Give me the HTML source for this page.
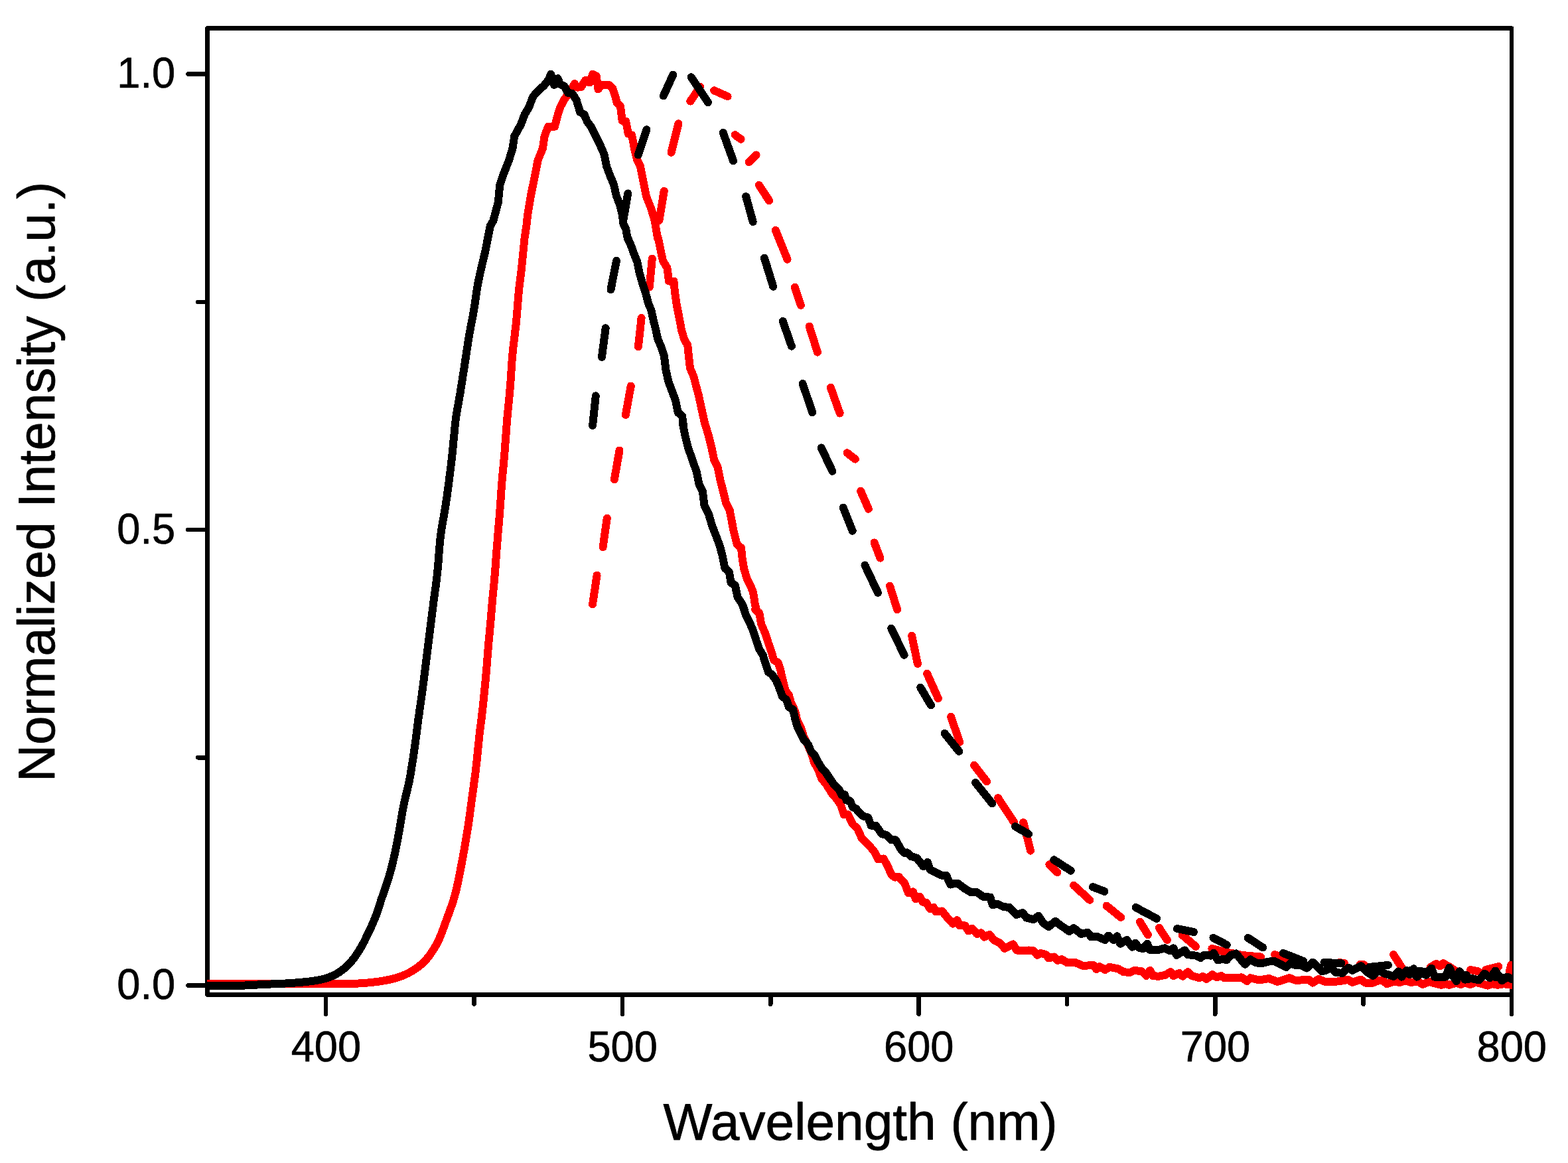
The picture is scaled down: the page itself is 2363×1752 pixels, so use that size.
<!DOCTYPE html>
<html lang="en"><head><meta charset="utf-8"><title>Normalized Intensity vs Wavelength</title>
<style>html,body{margin:0;padding:0;background:#fff;overflow:hidden}svg{display:block}text{font-family:"Liberation Sans",sans-serif;fill:#000}</style></head><body>
<svg width="2363" height="1752" viewBox="0 0 2363 1752">
<rect x="0" y="0" width="2363" height="1752" fill="#ffffff"/>
<defs><clipPath id="plot"><rect x="312" y="42.5" width="1967" height="1456.0"/></clipPath></defs>
<g shape-rendering="crispEdges" fill="none" stroke="#000" stroke-width="6.5" stroke-linecap="round" stroke-linejoin="round">
<rect x="312.5" y="42.5" width="1965.5" height="1456.0"/>
<line x1="491.20" y1="1498.5" x2="491.20" y2="1527.75"/>
<line x1="937.90" y1="1498.5" x2="937.90" y2="1527.75"/>
<line x1="1384.60" y1="1498.5" x2="1384.60" y2="1527.75"/>
<line x1="1831.30" y1="1498.5" x2="1831.30" y2="1527.75"/>
<line x1="2278.00" y1="1498.5" x2="2278.00" y2="1527.75"/>
<line x1="714.55" y1="1498.5" x2="714.55" y2="1512.75"/>
<line x1="1161.25" y1="1498.5" x2="1161.25" y2="1512.75"/>
<line x1="1607.95" y1="1498.5" x2="1607.95" y2="1512.75"/>
<line x1="2054.65" y1="1498.5" x2="2054.65" y2="1512.75"/>
<line x1="312.5" y1="1484.50" x2="283.25" y2="1484.50"/>
<line x1="312.5" y1="798.00" x2="283.25" y2="798.00"/>
<line x1="312.5" y1="111.50" x2="283.25" y2="111.50"/>
<line x1="312.5" y1="1141.25" x2="298.25" y2="1141.25"/>
<line x1="312.5" y1="454.75" x2="298.25" y2="454.75"/>
</g>
<g clip-path="url(#plot)" shape-rendering="crispEdges" fill="none" stroke-width="12" stroke-linejoin="round" stroke-linecap="round">
<polyline stroke="#ff0000" points="312.0,1482.4 318.0,1482.4 324.0,1482.4 330.0,1482.4 336.0,1482.4 342.0,1482.4 348.0,1482.4 354.0,1482.4 360.0,1482.4 366.0,1482.4 372.0,1482.4 378.0,1482.4 384.0,1482.4 390.0,1482.4 396.0,1482.4 402.0,1482.4 408.0,1482.4 414.0,1482.4 420.0,1482.4 426.0,1482.4 432.0,1482.4 438.0,1482.4 444.0,1482.4 450.0,1482.4 456.0,1482.4 462.0,1482.4 468.0,1482.4 474.0,1482.4 480.0,1482.4 486.0,1482.4 492.0,1482.4 498.0,1482.4 504.0,1482.4 510.0,1482.3 516.0,1482.2 522.0,1482.1 528.0,1482.0 534.0,1481.7 540.0,1481.5 546.0,1481.1 552.0,1480.7 557.9,1480.1 563.9,1479.5 569.8,1478.7 575.8,1477.9 581.7,1476.8 587.5,1475.6 593.3,1474.2 599.1,1472.6 604.7,1470.6 610.2,1468.4 615.6,1465.8 620.8,1462.9 625.8,1459.7 630.6,1456.3 635.2,1452.5 639.5,1448.5 643.5,1444.1 647.2,1439.5 650.6,1434.6 653.8,1429.6 656.9,1424.5 659.6,1419.2 662.2,1413.8 664.5,1408.3 666.7,1402.7 668.7,1397.1 670.8,1391.5 672.8,1385.8 674.9,1380.2 677.0,1374.6 679.0,1368.9 681.0,1363.3 682.9,1357.6 684.6,1351.8 686.2,1346.1 687.7,1340.3 689.0,1334.4 690.3,1328.6 691.5,1322.7 692.6,1316.8 693.8,1310.9 694.9,1305.0 696.1,1299.1 697.2,1293.2 698.3,1287.3 699.3,1281.4 700.3,1275.5 701.3,1269.6 702.3,1263.7 703.3,1257.8 704.3,1251.8 705.2,1245.9 706.2,1240.0 707.0,1234.0 707.9,1228.1 708.6,1222.2 709.4,1216.2 710.2,1210.3 711.0,1204.3 711.8,1198.4 712.6,1192.4 713.5,1186.5 714.3,1180.5 715.1,1174.6 715.9,1168.7 716.7,1162.7 717.3,1156.7 718.0,1150.8 718.7,1144.8 719.3,1138.8 719.9,1132.9 720.5,1126.9 721.1,1120.9 721.7,1115.0 722.3,1109.0 723.0,1103.0 723.7,1097.1 724.5,1091.1 725.3,1085.2 726.0,1079.2 726.7,1073.3 727.4,1067.3 728.0,1061.4 728.6,1055.4 729.2,1049.4 729.8,1043.4 730.4,1037.5 731.0,1031.5 731.6,1025.5 732.1,1019.6 732.7,1013.6 733.2,1007.6 733.7,1001.6 734.2,995.6 734.6,989.7 735.1,983.7 735.6,977.7 736.1,971.7 736.6,965.7 737.2,959.8 737.8,953.8 738.3,947.8 738.9,941.9 739.4,935.9 739.9,929.9 740.4,923.9 740.9,917.9 741.4,912.0 741.9,906.0 742.4,900.0 743.0,894.0 743.6,888.1 744.2,882.1 744.8,876.1 745.3,870.2 745.8,864.2 746.3,858.2 746.8,852.2 747.2,846.2 747.6,840.2 748.1,834.3 748.5,828.3 749.0,822.3 749.5,816.3 749.9,810.3 750.4,804.4 750.9,798.4 751.4,792.4 752.0,786.4 752.5,780.4 753.0,774.5 753.4,768.5 753.9,762.5 754.3,756.5 754.7,750.5 755.1,744.5 755.5,738.5 755.9,732.6 756.4,726.6 756.9,720.6 757.4,714.6 758.0,708.7 758.6,702.7 759.1,696.7 759.7,690.7 760.2,684.8 760.7,678.8 761.1,672.8 761.6,666.8 762.0,660.8 762.5,654.8 762.9,648.9 763.4,642.9 763.8,636.9 764.3,630.9 764.8,624.9 765.4,619.0 766.0,613.0 766.6,607.0 767.2,601.1 767.8,595.1 768.3,589.1 768.8,583.1 769.3,577.2 769.7,571.2 770.1,565.2 770.5,559.2 770.9,553.2 771.3,547.2 771.7,541.3 772.2,535.3 772.8,529.3 773.4,523.3 774.1,517.4 774.9,511.4 775.6,505.5 776.3,499.5 777.0,493.6 777.7,487.6 778.3,481.6 778.8,475.7 779.3,469.7 779.8,463.7 780.3,457.7 780.7,451.7 781.2,445.8 781.8,439.8 782.4,433.8 783.1,427.9 783.8,421.9 784.6,416.0 785.3,410.0 786.0,404.1 786.6,398.1 787.2,392.1 787.8,386.2 788.4,380.2 789.0,374.2 789.6,368.2 790.2,362.3 790.6,358.2 793.4,340.0 795.2,323.3 799.7,296.0 805.2,268.8 810.6,241.6 817.9,223.4 820.6,205.3 826.1,190.7 836.0,190.7 839.7,176.2 844.2,161.7 849.7,150.8 857.8,139.9 866.0,126.3 870.5,131.7 876.0,130.8 882.3,120.8 888.7,124.5 893.2,111.7 898.7,114.5 901.4,134.4 906.9,128.1 917.7,128.1 923.2,132.6 926.8,143.5 929.6,154.4 935.0,159.9 937.7,181.7 943.2,182.6 946.8,201.6 952.2,203.4 955.9,223.4 960.4,241.6 965.0,250.6 970.4,277.9 974.0,296.0 981.3,314.2 986.7,332.4 991.3,360.0 991.8,358.2 995.4,376.3 999.0,392.7 1005.4,403.5 1008.1,423.5 1015.4,423.5 1017.2,441.7 1019.9,459.8 1023.5,478.0 1027.2,498.0 1031.7,512.5 1036.2,519.8 1038.1,537.9 1039.9,554.3 1045.3,567.0 1049.0,581.5 1052.6,594.2 1055.3,606.9 1058.9,623.3 1062.6,640.0 1062.4,638.2 1067.9,656.3 1072.4,674.5 1076.1,692.6 1081.5,703.5 1085.1,721.7 1089.7,739.8 1094.2,758.0 1099.7,768.9 1102.4,783.4 1106.0,801.6 1110.6,819.7 1116.9,825.2 1118.7,841.5 1121.4,857.9 1126.0,872.4 1131.4,883.3 1135.1,892.4 1137.8,910.5 1140.5,920.0 1138.0,918.2 1144.3,923.6 1147.1,939.9 1153.4,954.5 1158.0,969.0 1162.5,981.7 1166.1,994.4 1172.5,998.0 1176.1,1008.9 1179.8,1025.3 1183.4,1039.8 1188.8,1047.1 1192.5,1059.8 1197.9,1070.7 1201.5,1085.2 1207.0,1096.1 1211.5,1110.6 1217.9,1123.3 1223.3,1136.0 1227.0,1148.8 1232.4,1157.8 1237.9,1172.4 1245.1,1181.4 1254.2,1196.0 1258.1,1200.0 1267.2,1212.7 1271.7,1227.2 1278.1,1227.2 1285.3,1241.8 1292.6,1249.0 1299.0,1263.5 1308.9,1272.6 1318.0,1283.5 1323.5,1294.4 1331.6,1293.5 1338.0,1305.3 1343.4,1318.0 1348.9,1321.7 1354.3,1320.7 1363.4,1330.7 1368.9,1345.3 1376.1,1343.4 1379.8,1354.3 1386.1,1350.7 1390.6,1358.9 1396.1,1359.8 1401.5,1368.9 1407.0,1367.0 1410.6,1373.4 1419.7,1372.5 1427.0,1381.6 1436.0,1391.6 1442.4,1386.1 1446.0,1394.3 1454.2,1394.3 1459.6,1402.5 1465.1,1398.8 1472.4,1407.0 1478.7,1405.2 1483.3,1411.5 1491.4,1407.9 1497.8,1416.1 1506.9,1420.6 1514.1,1428.8 1526.8,1422.4 1532.3,1431.5 1545.0,1432.4 1550.4,1431.5 1557.7,1432.4 1563.1,1438.8 1568.6,1436.0 1575.9,1437.9 1580.4,1443.3 1588.6,1441.5 1594.0,1446.9 1600.0,1445.1 1608.2,1450.3 1621.2,1450.3 1632.7,1455.2 1647.4,1453.6 1652.3,1460.1 1657.2,1456.1 1665.4,1461.0 1671.9,1456.9 1685.0,1459.3 1693.1,1464.2 1703.0,1465.0 1709.5,1461.8 1720.9,1463.4 1727.5,1470.0 1733.2,1461.8 1737.3,1470.0 1745.4,1470.8 1755.2,1469.1 1764.2,1464.2 1768.3,1470.0 1777.3,1465.9 1782.2,1470.8 1790.4,1464.2 1796.1,1470.0 1807.5,1473.2 1812.4,1470.8 1818.2,1474.9 1827.1,1468.3 1833.7,1472.4 1840.2,1470.0 1845.1,1473.2 1858.2,1473.2 1871.3,1472.4 1879.4,1478.1 1884.3,1473.2 1894.1,1475.7 1902.3,1475.7 1912.1,1474.0 1925.2,1478.9 1933.4,1476.5 1943.2,1473.2 1951.3,1476.5 1960.0,1476.5 1972.5,1475.7 1978.2,1480.6 1987.2,1474.9 1997.0,1478.9 2011.7,1478.9 2024.8,1477.3 2031.3,1475.7 2037.9,1479.8 2050.9,1475.7 2057.5,1480.6 2068.9,1480.6 2077.1,1477.3 2083.6,1477.3 2090.1,1482.2 2100.0,1478.9 2109.8,1479.8 2117.9,1477.3 2126.1,1479.8 2137.5,1478.9 2144.1,1483.0 2153.9,1478.9 2162.0,1481.4 2171.9,1483.8 2178.4,1482.2 2184.1,1483.8 2194.7,1480.6 2201.3,1483.0 2207.8,1480.6 2216.0,1483.0 2224.1,1479.8 2233.9,1482.2 2242.1,1484.7 2248.7,1482.2 2256.8,1483.8 2266.6,1482.2 2277.7,1483.8"/>
<g stroke="#ff0000">
<polyline points="893.0,910.5 899.6,866.6"/>
<polyline points="908.6,824.3 914.8,780.7"/>
<polyline points="925.9,722.2 933.5,678.6"/>
<polyline points="942.8,625.0 950.8,581.5"/>
<polyline points="961.9,522.5 966.6,478.9"/>
<polyline points="978.8,432.6 982.8,389.5"/>
<polyline points="993.4,332.0 1000.7,287.9"/>
<polyline points="1011.6,229.8 1022.5,186.2"/>
<polyline points="1040.3,152.6 1055.2,130.8"/>
<polyline points="1076.1,136.3 1096.6,145.3"/>
<polyline points="1107.5,203.1 1116.6,209.8"/>
<polyline points="1128.7,244.3 1139.6,233.4"/>
<polyline points="1143.8,278.8 1159.2,302.4"/>
<polyline points="1168.8,346.9 1186.6,390.8"/>
<polyline points="1197.8,432.6 1206.9,459.8"/>
<polyline points="1219.6,491.6 1232.0,530.6"/>
<polyline points="1251.8,583.7 1265.6,622.5"/>
<polyline points="1276.6,682.3 1288.9,691.7"/>
<polyline points="1297.1,739.8 1308.9,766.7"/>
<polyline points="1317.6,817.5 1326.5,840.6"/>
<polyline points="1341.0,882.7 1352.1,918.2"/>
<polyline points="1374.1,957.7 1382.9,999.9"/>
<polyline points="1397.1,1014.8 1413.8,1052.0"/>
<polyline points="1433.1,1079.8 1446.2,1117.9"/>
<polyline points="1468.0,1152.7 1487.1,1177.5"/>
<polyline points="1504.0,1202.0 1528.0,1238.5"/>
<polyline points="1542.2,1239.0 1553.1,1281.6"/>
<polyline points="1581.3,1302.2 1593.4,1314.3"/>
<polyline points="1618.1,1333.7 1642.3,1355.8"/>
<polyline points="1667.6,1364.6 1689.2,1382.0"/>
<polyline points="1717.9,1388.7 1730.0,1408.3"/>
<polyline points="1746.8,1397.7 1758.8,1416.0"/>
<polyline points="1781.8,1408.7 1802.0,1425.9"/>
<polyline points="1826.3,1429.1 1846.0,1434.0 1872.0,1439.0 1900.0,1441.5"/>
<polyline points="1921.1,1438.1 1938.3,1445.4"/>
<polyline points="2018.0,1450.0 2026.0,1451.0"/>
<polyline points="2050.0,1452.5 2056.0,1453.5"/>
<polyline points="2100.0,1438.1 2116.3,1463.4"/>
<polyline points="2155.5,1456.9 2164.5,1452.0 2170.2,1455.3 2175.1,1451.2 2185.0,1456.9 2194.8,1463.4"/>
<polyline points="2216.0,1461.0 2227.4,1463.4"/>
<polyline points="2238.9,1461.0 2258.5,1456.1"/>
<polyline points="2274.8,1463.4 2277.3,1453.6"/>
</g>
<g stroke="#000000">
<polyline points="893.1,640.9 897.8,596.4"/>
<polyline points="906.9,537.9 912.7,494.3"/>
<polyline points="920.5,436.2 929.0,392.7"/>
<polyline points="938.8,334.9 946.2,291.5"/>
<polyline points="961.7,233.4 974.4,195.3"/>
<polyline points="999.8,144.4 1014.3,112.7"/>
<polyline points="1041.6,116.3 1067.0,154.4"/>
<polyline points="1089.7,199.8 1105.1,242.5"/>
<polyline points="1124.2,296.0 1134.7,334.2"/>
<polyline points="1151.9,388.7 1165.2,431.7"/>
<polyline points="1179.7,483.8 1192.9,521.6"/>
<polyline points="1209.6,577.9 1224.2,621.4"/>
<polyline points="1237.7,674.5 1254.4,709.9"/>
<polyline points="1270.7,764.7 1284.7,799.8"/>
<polyline points="1303.4,851.5 1323.0,892.9"/>
<polyline points="1343.2,946.8 1362.7,986.8"/>
<polyline points="1387.2,1035.8 1403.0,1062.5"/>
<polyline points="1423.5,1104.8 1445.3,1131.9"/>
<polyline points="1470.0,1179.0 1495.3,1210.5"/>
<polyline points="1530.2,1245.1 1550.0,1256.5"/>
<polyline points="1588.3,1295.3 1613.8,1311.7"/>
<polyline points="1647.0,1336.2 1664.5,1342.9"/>
<polyline points="1711.5,1367.0 1743.1,1383.8"/>
<polyline points="1773.9,1399.0 1799.1,1404.1"/>
<polyline points="1828.4,1412.8 1848.7,1423.4"/>
<polyline points="1880.6,1412.8 1903.2,1427.5"/>
<polyline points="1933.9,1436.0 1964.3,1447.9"/>
<polyline points="1995.4,1450.0 2021.5,1451.2"/>
<polyline points="2064.0,1456.9 2091.8,1453.9"/>
<polyline points="2125.0,1462.0 2150.0,1464.0"/>
<polyline points="2185.0,1468.0 2210.0,1469.0"/>
<polyline points="2245.0,1471.0 2270.0,1473.0"/>
</g>
<polyline stroke="#000000" points="312.0,1485.1 318.0,1485.1 324.0,1485.1 330.0,1485.1 336.0,1485.1 342.0,1485.1 348.0,1485.0 354.0,1484.9 360.0,1484.8 366.0,1484.6 372.0,1484.4 378.0,1484.1 384.0,1483.7 390.0,1483.4 395.9,1483.1 401.9,1482.8 407.9,1482.5 413.9,1482.2 419.9,1482.0 425.9,1481.7 431.9,1481.4 437.9,1481.0 443.9,1480.6 449.9,1480.2 455.8,1479.6 461.8,1479.0 467.7,1478.3 473.7,1477.5 479.6,1476.5 485.4,1475.3 491.2,1473.8 496.8,1471.9 502.2,1469.6 507.4,1466.9 512.4,1463.8 517.2,1460.2 521.7,1456.4 525.9,1452.2 529.9,1447.8 533.6,1443.2 537.1,1438.3 540.4,1433.3 543.4,1428.2 546.4,1423.0 549.2,1417.7 551.8,1412.3 554.4,1406.9 557.0,1401.5 559.5,1396.1 561.9,1390.6 564.3,1385.2 566.5,1379.6 568.5,1374.0 570.3,1368.4 572.2,1362.7 574.0,1357.0 575.9,1351.3 577.9,1345.6 579.9,1340.0 581.9,1334.3 583.7,1328.6 585.5,1322.9 587.2,1317.1 588.8,1311.4 590.4,1305.6 591.8,1299.7 593.2,1293.9 594.5,1288.1 595.8,1282.2 597.0,1276.3 598.2,1270.4 599.3,1264.5 600.4,1258.6 601.4,1252.7 602.5,1246.8 603.5,1240.9 604.4,1235.0 605.4,1229.0 606.4,1223.1 607.5,1217.2 608.7,1211.3 610.0,1205.5 611.3,1199.7 612.8,1193.9 614.2,1188.1 615.6,1182.3 616.8,1176.5 617.9,1170.6 618.9,1164.7 619.9,1158.7 620.8,1152.8 621.8,1146.9 622.7,1140.9 623.6,1135.0 624.4,1129.0 625.3,1123.1 626.1,1117.2 626.9,1111.2 627.7,1105.3 628.4,1099.3 629.2,1093.4 629.9,1087.4 630.7,1081.5 631.6,1075.5 632.4,1069.6 633.3,1063.6 634.1,1057.7 635.0,1051.8 635.8,1045.8 636.6,1039.9 637.4,1033.9 638.2,1028.0 639.0,1022.0 639.7,1016.1 640.4,1010.1 641.2,1004.2 641.9,998.2 642.7,992.3 643.4,986.3 644.1,980.4 644.9,974.4 645.6,968.4 646.4,962.5 647.1,956.5 647.9,950.6 648.6,944.6 649.4,938.7 650.1,932.7 650.9,926.8 651.6,920.8 652.4,914.9 653.1,908.9 653.9,903.0 654.7,897.0 655.5,891.1 656.4,885.1 657.2,879.2 657.9,873.2 658.6,867.3 659.3,861.3 659.8,855.4 660.4,849.4 660.8,843.4 661.3,837.4 661.7,831.4 662.2,825.4 662.7,819.5 663.3,813.5 664.0,807.6 664.8,801.6 665.7,795.7 666.6,789.8 667.7,783.9 668.7,778.0 669.8,772.1 670.8,766.1 671.7,760.2 672.6,754.3 673.5,748.3 674.3,742.4 675.1,736.5 675.9,730.5 676.7,724.6 677.4,718.6 678.2,712.7 678.9,706.7 679.7,700.7 680.4,694.8 681.0,688.8 681.7,682.9 682.3,676.9 682.9,670.9 683.4,664.9 684.0,659.0 684.6,653.0 685.1,647.0 685.7,641.0 686.4,635.1 687.1,629.1 688.0,623.2 689.0,617.3 690.1,611.4 691.2,605.5 692.2,599.6 693.3,593.7 694.2,587.8 695.2,581.9 696.1,576.0 697.0,570.0 697.9,564.1 698.9,558.2 699.8,552.3 700.7,546.3 701.6,540.4 702.5,534.5 703.4,528.5 704.3,522.6 705.2,516.7 706.1,510.7 707.1,504.8 708.2,498.9 709.3,493.0 710.4,487.1 711.6,481.2 712.7,475.3 713.7,469.4 714.7,463.5 715.7,457.6 716.5,451.7 717.3,445.7 718.2,439.8 719.1,433.9 720.1,428.0 721.3,422.1 722.5,416.2 723.8,410.4 725.1,404.6 726.5,398.7 727.9,392.9 729.3,387.1 730.7,381.2 732.0,375.4 733.2,369.5 734.2,363.6 735.3,358.2 738.9,340.0 743.4,332.4 750.7,305.1 753.4,277.9 759.8,259.7 767.0,241.6 772.5,223.4 775.2,205.3 785.2,187.1 790.6,172.6 797.0,161.7 803.4,145.3 811.5,136.3 819.7,129.0 827.0,119.9 830.2,111.7 835.1,128.1 840.6,118.1 844.2,127.2 850.6,129.9 856.0,139.9 862.4,140.8 868.7,150.8 874.2,168.9 880.5,172.6 885.1,183.5 890.5,190.7 897.8,205.3 905.0,219.8 910.5,232.5 914.1,250.6 919.6,265.2 925.0,277.9 928.6,294.2 934.1,308.8 937.7,323.3 939.5,337.8 943.2,345.1 945.9,360.0 945.9,358.2 951.3,370.9 955.9,383.6 960.4,394.5 963.1,409.0 967.7,425.3 973.1,441.7 976.8,456.2 981.3,467.1 984.9,483.4 988.6,498.0 991.3,510.7 996.7,523.4 1000.8,536.1 1003.6,557.9 1007.2,574.2 1012.6,588.8 1018.1,603.3 1021.7,621.4 1028.1,626.9 1029.9,640.0 1028.8,638.2 1032.5,656.3 1037.0,674.5 1043.4,692.6 1049.7,710.8 1053.4,728.9 1058.8,739.8 1061.5,761.6 1067.9,774.3 1073.3,792.5 1079.7,808.8 1085.1,823.4 1088.8,837.9 1092.4,856.0 1098.8,861.5 1101.5,877.8 1107.8,881.5 1111.5,899.6 1117.8,908.7 1122.4,920.0 1118.9,910.9 1123.5,925.4 1129.8,938.1 1135.3,950.8 1139.8,965.4 1144.3,978.1 1149.8,987.2 1154.3,1001.7 1158.0,1012.6 1163.4,1016.2 1169.8,1025.3 1174.3,1036.2 1178.8,1048.9 1185.2,1054.3 1188.8,1065.2 1195.2,1068.9 1197.9,1081.6 1201.5,1094.3 1207.0,1105.2 1211.5,1114.3 1217.9,1121.5 1222.4,1132.4 1227.9,1137.9 1233.3,1148.8 1238.8,1157.8 1244.2,1163.3 1251.5,1174.2 1257.8,1183.3 1264.2,1188.7 1268.7,1197.8 1273.0,1197.0 1275.7,1205.6 1281.1,1206.5 1285.2,1216.0 1290.2,1218.3 1294.7,1224.2 1301.1,1229.7 1308.4,1231.5 1312.6,1243.6 1319.8,1243.6 1328.9,1256.3 1336.2,1258.1 1343.4,1265.4 1349.8,1265.4 1358.0,1279.9 1363.4,1285.3 1367.0,1284.4 1372.5,1289.9 1381.6,1292.6 1391.6,1305.3 1397.9,1299.0 1401.5,1309.9 1412.4,1315.3 1419.7,1318.9 1426.1,1318.9 1432.4,1332.5 1439.7,1330.7 1443.3,1330.7 1454.2,1338.9 1463.3,1344.3 1472.4,1344.3 1481.4,1350.7 1492.3,1351.6 1496.0,1363.4 1503.2,1361.6 1512.3,1366.1 1521.4,1367.0 1531.4,1377.9 1541.4,1375.2 1546.8,1382.5 1557.7,1385.2 1565.0,1379.8 1572.2,1390.6 1580.4,1396.1 1590.4,1387.9 1600.0,1395.2 1611.4,1403.0 1618.0,1398.0 1629.4,1407.0 1639.2,1404.6 1644.1,1411.1 1653.9,1411.1 1665.4,1416.0 1670.3,1409.5 1678.4,1416.0 1683.3,1410.3 1688.2,1421.7 1698.0,1416.0 1706.2,1426.6 1711.1,1420.9 1716.0,1427.5 1722.6,1429.1 1729.1,1421.7 1732.4,1430.7 1743.8,1431.5 1755.2,1428.3 1763.4,1432.4 1768.3,1428.3 1773.2,1438.9 1785.5,1431.5 1789.6,1438.1 1802.6,1439.7 1809.2,1443.0 1814.1,1438.9 1825.5,1439.7 1828.8,1435.6 1835.3,1446.3 1843.5,1444.6 1848.4,1446.3 1854.9,1438.9 1863.1,1436.5 1868.0,1443.0 1876.2,1452.8 1884.3,1445.4 1892.5,1450.3 1902.3,1451.2 1910.5,1448.7 1920.3,1447.9 1928.5,1452.0 1938.3,1456.9 1944.8,1451.2 1953.0,1454.4 1960.0,1453.6 1969.2,1458.5 1978.2,1449.5 1985.6,1456.9 1992.1,1463.4 1998.6,1461.8 2005.2,1456.9 2013.3,1465.0 2023.1,1465.9 2032.1,1457.7 2037.9,1461.8 2044.4,1458.5 2050.9,1455.2 2059.1,1463.4 2068.9,1470.0 2077.1,1461.8 2086.9,1466.7 2100.0,1470.8 2107.3,1463.4 2112.2,1471.6 2119.6,1461.8 2124.5,1468.3 2130.2,1459.3 2135.1,1471.6 2142.4,1465.0 2149.0,1469.1 2157.1,1458.5 2162.0,1471.6 2171.9,1472.4 2178.4,1471.6 2184.1,1457.7 2189.8,1470.0 2194.7,1478.1 2199.6,1463.4 2207.8,1475.7 2217.6,1474.0 2229.0,1476.5 2237.2,1466.7 2245.4,1473.2 2253.6,1462.6 2263.4,1477.3 2271.5,1471.6 2277.7,1474.9"/>
</g>
<g font-size="65.4" text-anchor="middle" stroke="#000" stroke-width="0.7" stroke-linejoin="round">
<text transform="translate(491.4 1598.8) scale(0.9664 1)">400</text>
<text transform="translate(938.1 1598.8) scale(0.9664 1)">500</text>
<text transform="translate(1384.8 1598.8) scale(0.9664 1)">600</text>
<text transform="translate(1831.5 1598.8) scale(0.9664 1)">700</text>
<text transform="translate(2278.2 1598.8) scale(0.9664 1)">800</text>
</g>
<g font-size="65.4" text-anchor="end" stroke="#000" stroke-width="0.7" stroke-linejoin="round">
<text transform="translate(264.2 1505.0) scale(0.9664 1)">0.0</text>
<text transform="translate(264.2 818.5) scale(0.9664 1)">0.5</text>
<text transform="translate(264.2 132.0) scale(0.9664 1)">1.0</text>
</g>
<text font-size="78.4" text-anchor="middle" stroke="#000" stroke-width="0.8" stroke-linejoin="round" x="1296.6" y="1716.9">Wavelength (nm)</text>
<text font-size="77.45" text-anchor="middle" stroke="#000" stroke-width="0.8" stroke-linejoin="round" transform="translate(81.9 725.9) rotate(-90)">Normalized Intensity (a.u.)</text>
</svg></body></html>
